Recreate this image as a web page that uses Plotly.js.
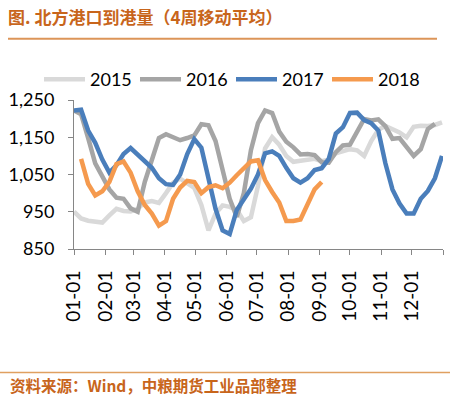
<!DOCTYPE html>
<html>
<head>
<meta charset="utf-8">
<script src="https://cdn.plot.ly/plotly-3.0.1.min.js"></script>
<style>
  html, body { margin: 0; padding: 0; background: #fff; }
  #chart { width: 450px; height: 398px; }
</style>
</head>
<body>
<div id="chart"></div>
<script>
// Week dates (month-day), shared across years
const weeks = ["01-01","01-08","01-15","01-22","01-29","02-05","02-12","02-19","02-26","03-05","03-12","03-19","03-26","04-02","04-09","04-16","04-23","04-30","05-07","05-14","05-21","05-28","06-04","06-11","06-18","06-25","07-02","07-09","07-16","07-23","07-30","08-06","08-13","08-20","08-27","09-03","09-10","09-17","09-24","10-01","10-08","10-15","10-22","10-29","11-05","11-12","11-19","11-26","12-03","12-10","12-17","12-24","12-31"];

const seriesNames = ["2015", "2016", "2017", "2018"];

const v2015 = [950,932,926,925,921,940,958,952,951,958,975,979,974,1000,1028,1039,1027,1014,968,900,945,967,963,955,925,935,1020,1120,1150,1130,1100,1084,1087,1090,1092,1086,1090,1107,1112,1118,1115,1100,1140,1170,1180,1172,1163,1150,1178,1181,1180,1183,1190];
const v2016 = [1222,1212,1148,1080,1045,1010,988,985,959,950,1030,1085,1148,1158,1150,1142,1148,1155,1185,1182,1140,1060,985,936,1000,1115,1188,1222,1215,1165,1138,1123,1104,1105,1102,1083,1082,1110,1128,1130,1164,1199,1195,1198,1180,1146,1148,1125,1100,1118,1172,1186];
const v2017 = [1222,1224,1168,1135,1090,1055,1075,1105,1121,1104,1086,1068,1040,1024,1022,1050,1105,1145,1122,1040,958,900,890,955,985,1012,1050,1107,1112,1100,1068,1040,1028,1040,1062,1067,1092,1160,1177,1215,1216,1196,1188,1168,1080,1010,972,945,945,985,1006,1040,1100];
const v2018 = [null,1092,1025,994,1005,1030,1078,1085,1055,1005,968,945,913,925,985,1015,1033,1030,1000,1016,1021,1013,1028,1048,1067,1085,1088,1035,1003,975,925,925,929,970,1010,1030];

const yTickVals = [850, 950, 1050, 1150, 1250];
const yTickText = ["850", "950", "1,050", "1,150", "1,250"];

const colors = ["#d9d9d9", "#a5a5a5", "#4a7ebb", "#f59a4e"];
const allValues = [v2015, v2016, v2017, v2018];

const xDates = weeks.map(w => "2018-" + w);

const traces = allValues.map((vals, i) => ({
  type: "scatter",
  mode: "lines",
  name: seriesNames[i],
  x: xDates.slice(0, vals.length),
  y: vals,
  line: { color: colors[i], width: 4.5 },
  connectgaps: false,
  hoverinfo: "skip"
}));

const W = 450, H = 398;
const L = 74, R = 443, T = 99.5, B = 249;
const pw = R - L, ph = B - T;
const px = x => (x - L) / pw;
const py = y => (B - y) / ph;

const layout = {
  width: W, height: H,
  margin: { l: L, r: W - R, t: T, b: H - B, pad: 0 },
  paper_bgcolor: "#ffffff",
  plot_bgcolor: "#ffffff",
  showlegend: true,
  legend: {
    orientation: "h",
    x: px(39), y: py(79), xanchor: "left", yanchor: "middle",
    font: { family: "Lato, 'Open Sans', sans-serif", size: 18, color: "#000" },
    itemwidth: 41,
    entrywidth: 40, entrywidthmode: "pixels",
    bgcolor: "rgba(0,0,0,0)",
    tracegroupgap: 0
  },
  title: {
    text: "<b>图. 北方港口到港量（4周移动平均）</b>",
    xref: "container", yref: "container",
    x: 8 / W, xanchor: "left",
    y: 1 - 18 / H, yanchor: "middle",
    font: { family: "'Noto Sans CJK SC', sans-serif", size: 17, color: "#c8651b" }
  },
  xaxis: {
    type: "date",
    range: ["2018-01-01", "2019-01-01"],
    tickformat: "%m-%d",
    dtick: "M1",
    tick0: "2018-01-01",
    ticks: "outside", ticklen: 5, tickcolor: "#868686", tickwidth: 1,
    tickangle: -90,
    ticklabelstandoff: 8,
    showline: true, linecolor: "#868686", linewidth: 1,
    showgrid: false, zeroline: false,
    tickfont: { family: "Lato, 'Open Sans', sans-serif", size: 19, color: "#000" },
    fixedrange: true
  },
  yaxis: {
    range: [850, 1250],
    tickvals: yTickVals, ticktext: yTickText,
    ticks: "outside", ticklen: 5, tickcolor: "#868686", tickwidth: 1,
    ticklabelstandoff: 10,
    showline: true, linecolor: "#868686", linewidth: 1,
    showgrid: false, zeroline: false,
    tickfont: { family: "Lato, 'Open Sans', sans-serif", size: 18, color: "#000" },
    fixedrange: true
  },
  shapes: [
    { type: "line", xref: "paper", yref: "paper", x0: px(8), x1: px(437), y0: py(38), y1: py(38),
      line: { color: "#dc9558", width: 2 } },
    { type: "line", xref: "paper", yref: "paper", x0: px(0), x1: px(450), y0: py(373), y1: py(373),
      line: { color: "#e0a060", width: 1.5 } }
  ],
  annotations: [
    { xref: "paper", yref: "paper", x: px(8), y: py(385), xanchor: "left", yanchor: "middle",
      showarrow: false,
      text: "<b>资料来源：Wind，中粮期货工业品部整理</b>",
      font: { family: "'Noto Sans CJK SC', sans-serif", size: 15.5, color: "#c8651b" } }
  ]
};

Plotly.newPlot("chart", traces, layout, { staticPlot: true, displayModeBar: false });
</script>
</body>
</html>
